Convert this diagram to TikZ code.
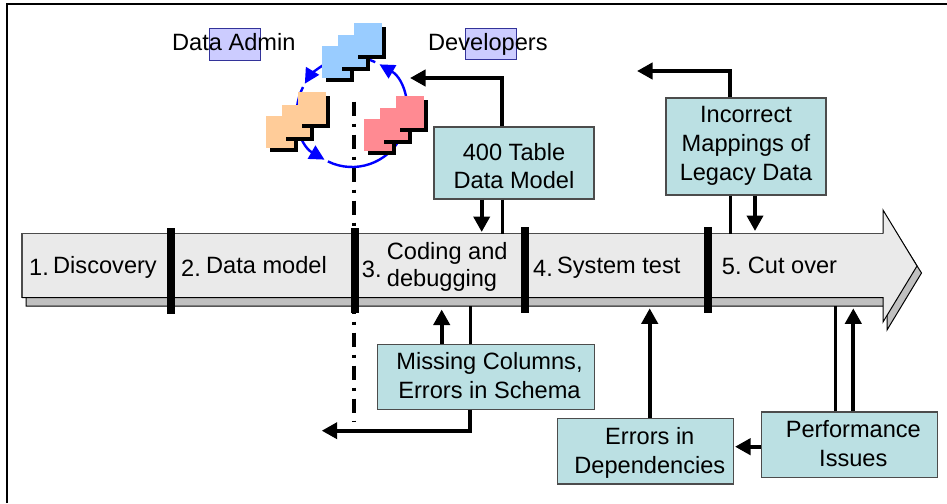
\documentclass[tikz,border=0pt]{standalone}
\usepackage{fontspec}
\setmainfont{Liberation Sans}
\usetikzlibrary{arrows.meta}
\definecolor{boxfill}{HTML}{BBE0E3}
\definecolor{bodyfill}{HTML}{EAEAEA}
\definecolor{bodyshade}{HTML}{C0C0C0}
\definecolor{hl}{HTML}{CCCCFF}
\definecolor{hlline}{HTML}{333399}
\definecolor{docblue}{HTML}{99CCFF}
\definecolor{docorange}{HTML}{FFCC99}
\definecolor{docred}{HTML}{FF8A92}
\newcommand\blocktext[3]{\raisebox{#1pt}[0pt][0pt]{\fontsize{23.6}{#2pt}\selectfont\begin{tabular}[t]{@{}c@{}}#3\end{tabular}}}
\newcommand\docstack[7]{%
  \fill[black] (#2+3.5,#3+4) rectangle ++(28,32);
  \fill[#1] (#2,#3) rectangle ++(28,32);
  \fill[black] (#4+3.5,#5+4) rectangle ++(28,32);
  \fill[#1] (#4,#5) rectangle ++(28,32);
  \fill[black] (#6+3.5,#7+4) rectangle ++(28,32);
  \fill[#1] (#6,#7) rectangle ++(28,32);
}
\tikzset{
  x=1pt,y=-1pt,
  infobox/.style={draw=black!70,line width=1.2pt,fill=boxfill,inner sep=0pt,font=\fontsize{23.6}{29}\selectfont},
  lbl/.style={inner sep=0pt,anchor=base west,font=\fontsize{23.6}{28}\selectfont},
  plain/.style={line width=3pt,line cap=butt,line join=miter},
  arr/.style={line width=4pt,-{Triangle[length=15.5pt,width=16pt]}},
  barline/.style={line width=8pt},
  cyc/.style={draw=blue,line width=2.4pt},
  cyca/.style={cyc,-{Triangle[length=15pt,width=15pt]}},
  hlbox/.style={draw=hlline,fill=hl,line width=0.8pt,inner sep=0pt},
}
\begin{document}
\begin{tikzpicture}
\useasboundingbox (0,0) rectangle (947,503);
\fill[white] (0,0) rectangle (947,503);
\draw[line width=2pt] (7,503) -- (7,4) -- (947,4);

% headings
\node[hlbox,minimum width=51.5pt,minimum height=32pt] (hla) at (235,44) {};
\node[hlbox,minimum width=50.5pt,minimum height=31pt] (hld) at (491,43.5) {};
\node[lbl] (tadmin) at (172,50.5) {Data Admin};
\node[lbl] (tdev) at (428,50.5) {Developers};

% dash-dot line (passes behind the arrow)
\coordinate (dd1) at (353.5,101.7);
\coordinate (dd2) at (353.5,422);
\draw[line width=4pt,dash pattern=on 14pt off 8pt on 3.5pt off 7.5pt] (dd1) -- (dd2);

% cycle arcs
\draw[cyca] (352,112) ++(240:55) arc[start angle=240,end angle=211,radius=55];
\draw[cyca] (352,112) ++(207:55) arc[start angle=207,end angle=120,radius=55];
\draw[cyca] (352,112) ++(116:55) arc[start angle=116,end angle=-60,radius=55];
\draw[cyc] (352,112) ++(-65:55) arc[start angle=-65,end angle=-75,radius=55];

% document stacks
\docstack{docblue}{322}{46}{338}{35}{354}{23}
\docstack{docorange}{266}{116}{282}{105}{298}{92}
\docstack{docred}{364}{119}{380}{108}{396}{96}

% big process arrow
\fill[bodyshade,draw=black,line width=1pt] (26,241) -- (887,241) -- (887,218) -- (921.5,273) -- (887,330) -- (887,306) -- (26,306) -- cycle;
\fill[bodyfill] (22,233.5) -- (883,233.5) -- (883,210) -- (917,266) -- (883,322) -- (883,297.5) -- (22,297.5) -- cycle;
\draw[black!70,line width=1.3pt] (22,297.5) -- (22,233.5) -- (883,233.5);
\draw[black,line width=1pt] (883,233.5) -- (883,210) -- (917,266) -- (883,322) -- (883,297.5) -- (22,297.5);

% stage dividers
\coordinate (d1a) at (171,228); \coordinate (d1b) at (171,314);
\coordinate (d2a) at (355,228); \coordinate (d2b) at (355,313);
\coordinate (d3a) at (525,227); \coordinate (d3b) at (525,313);
\coordinate (d4a) at (708,227); \coordinate (d4b) at (708,313);
\draw[barline] (d1a) -- (d1b);
\draw[barline] (d2a) -- (d2b);
\draw[barline] (d3a) -- (d3b);
\draw[barline] (d4a) -- (d4b);

% stage labels
\node[lbl] (s1) at (29,275.7) {1.};
\node[lbl] (s1t) at (53,273.3) {Discovery};
\node[lbl] (s2) at (181,276.7) {2.};
\node[lbl] (s2t) at (206,273.5) {Data model};
\node[lbl] (s3) at (361.7,277) {3.};
\node[lbl] (s3t) at (386.7,259.3) {Coding and};
\node[lbl] (s3u) at (386.7,286.7) {debugging};
\node[lbl] (s4) at (533,276) {4.};
\node[lbl] (s4t) at (557,273.5) {System test};
\node[lbl] (s5) at (721.7,274.5) {5.};
\node[lbl] (s5t) at (747.7,273.3) {Cut over};

% boxes
\node[infobox,minimum width=160pt,minimum height=72pt] (b400) at (514,163) {\blocktext{3}{28.3}{400 Table\\Data Model}};
\node[infobox,minimum width=160pt,minimum height=97pt] (binc) at (746,146.5) {\blocktext{24.2}{29.3}{Incorrect\\Mappings of\\Legacy Data}};
\node[infobox,minimum width=216.5pt,minimum height=65pt] (bmis) at (486,376.8) {\hspace*{7pt}\blocktext{7.5}{29.4}{Missing Columns,\\Errors in Schema}};
\node[infobox,minimum width=176pt,minimum height=65.7pt] (berr) at (645.3,451.2) {\hspace*{9pt}\blocktext{6.9}{29}{Errors in\\Dependencies}};
\node[infobox,minimum width=176.4pt,minimum height=65.7pt] (bper) at (849.5,444.8) {\hspace*{7.6pt}\blocktext{7.1}{29}{Performance\\Issues}};

% connectors
\coordinate (top1) at (410,78);
\coordinate (c1) at (502,78);
\coordinate (bt1) at (502,233.5);
\coordinate (dn1) at (481.7,232);
\draw[arr] (b400.north -| c1) |- (top1);
\draw[plain] (b400.south -| c1) -- (bt1);
\draw[arr] (b400.south -| dn1) -- (dn1);

\coordinate (top2) at (637,71);
\coordinate (c2) at (730,71);
\coordinate (bt2) at (730,233.5);
\coordinate (dn2) at (755,231);
\draw[arr] (binc.north -| c2) |- (top2);
\draw[plain] (binc.south -| c2) -- (bt2);
\draw[arr] (binc.south -| dn2) -- (dn2);

\coordinate (up3) at (441.7,309.5);
\coordinate (l3) at (470,306);
\coordinate (end3) at (321.7,430.7);
\draw[arr] (bmis.north -| up3) -- (up3);
\draw[plain] (bmis.north -| l3) -- (l3);
\draw[arr] (bmis.south -| l3) |- (end3);

\coordinate (up4) at (649.7,308.3);
\draw[arr] (berr.north -| up4) -- (up4);

\coordinate (l5) at (835,306);
\coordinate (up5) at (853.3,308.3);
\draw[plain] (bper.north -| l5) -- (l5);
\draw[arr] (bper.north -| up5) -- (up5);
\coordinate (tip6) at (735,446.7);
\draw[arr] (bper.west |- tip6) -- (tip6);
\end{tikzpicture}
\end{document}
